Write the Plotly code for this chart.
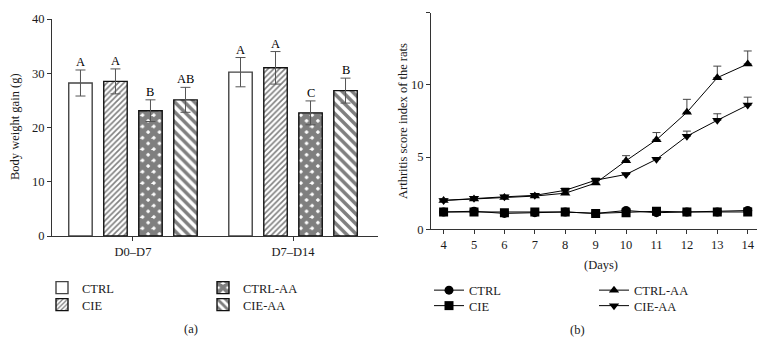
import plotly.graph_objects as go

# ---------------- data: panel (a) ----------------
periods = ["D0–D7", "D7–D14"]
bar_names = ["CTRL", "CIE", "CTRL-AA", "CIE-AA"]
ctrl_gain = [28.2, 30.2]
ctrl_gain_err = [2.4, 2.7]
cie_gain = [28.5, 31.0]
cie_gain_err = [2.3, 3.0]
ctrlaa_gain = [23.1, 22.7]
ctrlaa_gain_err = [2.0, 2.2]
cieaa_gain = [25.1, 26.8]
cieaa_gain_err = [2.3, 2.3]
ctrl_letters = ["A", "A"]
cie_letters = ["A", "A"]
ctrlaa_letters = ["B", "C"]
cieaa_letters = ["AB", "B"]

# ---------------- data: panel (b) ----------------
days = [4, 5, 6, 7, 8, 9, 10, 11, 12, 13, 14]
ctrl_score = [1.2, 1.25, 1.1, 1.15, 1.2, 1.1, 1.3, 1.15, 1.2, 1.2, 1.3]
cie_score = [1.2, 1.2, 1.15, 1.2, 1.2, 1.1, 1.15, 1.25, 1.2, 1.2, 1.2]
ctrlaa_score = [2.0, 2.1, 2.2, 2.3, 2.5, 3.2, 4.75, 6.2, 8.1, 10.5, 11.45]
ctrlaa_score_err = [0.1, 0.1, 0.15, 0.1, 0.1, 0.15, 0.35, 0.5, 0.9, 0.8, 0.9]
cieaa_score = [2.0, 2.15, 2.25, 2.35, 2.7, 3.4, 3.8, 4.85, 6.45, 7.55, 8.6]
cieaa_score_err = [0.1, 0.1, 0.1, 0.1, 0.15, 0.15, 0.1, 0.1, 0.35, 0.45, 0.55]

# page body has an 8px margin: figure drawn at (8, 8)
OFF = 8
W, H = 756, 340
FONT = "Liberation Serif, Times New Roman, serif"
FS = 12.5
TXT = "#1a1a1a"


def px(xp):
    return (xp - OFF) / W


def py(yp):
    return 1 - (yp - OFF) / H


fig = go.Figure()

bar_vals = [ctrl_gain, cie_gain, ctrlaa_gain, cieaa_gain]
bar_errs = [ctrl_gain_err, cie_gain_err, ctrlaa_gain_err, cieaa_gain_err]
bar_letters = [ctrl_letters, cie_letters, ctrlaa_letters, cieaa_letters]
patterns = [
    dict(shape=""),
    dict(shape="/", fgcolor="black", bgcolor="white", size=4, solidity=0.4),
    dict(shape="x", fgcolor="black", bgcolor="white", size=8, solidity=0.85),
    dict(shape="\\", fgcolor="black", bgcolor="white", size=7, solidity=0.5),
]
outline = ["#444", "#111", "#111", "#111"]
legend_ids = ["legend", "legend2", "legend3", "legend4"]

for i, name in enumerate(bar_names):
    fig.add_trace(go.Bar(
        x=periods, y=bar_vals[i], name=name,
        marker=dict(color="white", line=dict(color=outline[i], width=1.4),
                    pattern=patterns[i]),
        error_y=dict(type="data", array=bar_errs[i], color="#555",
                     thickness=1, width=5),
        xaxis="x", yaxis="y", legend=legend_ids[i],
    ))

# letters above the error bars
slot_px = 35
for i in range(4):
    off = (i - 1.5) * slot_px
    for j, g in enumerate(periods):
        fig.add_annotation(
            x=g, y=bar_vals[i][j] + bar_errs[i][j], xref="x", yref="y",
            text=bar_letters[i][j], showarrow=False, xanchor="center", yanchor="bottom",
            xshift=off, yshift=-1, font=dict(family=FONT, size=FS, color="black"))

markers = [
    ("CTRL", ctrl_score, None, "circle", "legend5"),
    ("CIE", cie_score, None, "square", "legend6"),
    ("CTRL-AA", ctrlaa_score, ctrlaa_score_err, "triangle-up", "legend7"),
    ("CIE-AA", cieaa_score, cieaa_score_err, "triangle-down", "legend8"),
]
for name, vals, err, sym, leg in markers:
    kw = {}
    if err is not None:
        kw["error_y"] = dict(type="data", symmetric=False, array=err,
                             arrayminus=[0] * len(err), color="#444",
                             thickness=1, width=4)
    fig.add_trace(go.Scatter(
        x=days, y=vals, name=name, mode="lines+markers",
        line=dict(color="black", width=1),
        marker=dict(symbol=sym, size=9, color="black"),
        xaxis="x2", yaxis="y2", legend=leg, **kw))

axis_common = dict(showline=True, linecolor="#333", linewidth=1, ticks="outside",
                   ticklen=4, tickcolor="#333", showgrid=False, zeroline=False,
                   automargin=False,
                   tickfont=dict(family=FONT, size=FS, color=TXT))

fig.update_layout(
    width=W, height=H, margin=dict(l=0, r=0, t=0, b=0, pad=0, autoexpand=False),
    paper_bgcolor="white", plot_bgcolor="white",
    barmode="group", bargap=0.125, bargroupgap=0.33,
    font=dict(family=FONT, size=FS, color=TXT),
    xaxis=dict(domain=[px(52), px(378)], range=[-0.506, 1.531], anchor="y",
               **axis_common),
    yaxis=dict(domain=[py(236), py(19)], range=[0, 40], tickvals=[0, 10, 20, 30, 40],
               anchor="x", **axis_common),
    xaxis2=dict(domain=[px(431), px(757)], range=[3.586, 14.305], dtick=1,
                anchor="y2", **axis_common),
    yaxis2=dict(domain=[py(229.3), py(12.7)], range=[0, 15], tickvals=[0, 5, 10, 15],
                anchor="x2", **axis_common),
    showlegend=True,
)

leg_common = dict(bgcolor="rgba(0,0,0,0)", font=dict(family=FONT, size=FS, color=TXT),
                  orientation="v", xanchor="left", yanchor="middle",
                  itemwidth=30, tracegroupgap=0)
fig.update_layout(
    legend=dict(x=px(42), y=py(288), **leg_common),
    legend2=dict(x=px(42), y=py(305), **leg_common),
    legend3=dict(x=px(203), y=py(288), **leg_common),
    legend4=dict(x=px(203), y=py(305), **leg_common),
    legend5=dict(x=px(429), y=py(290.5), **leg_common),
    legend6=dict(x=px(429), y=py(306), **leg_common),
    legend7=dict(x=px(594), y=py(290.5), **leg_common),
    legend8=dict(x=px(594), y=py(306), **leg_common),
)

# axis titles and panel labels
lab = dict(xref="paper", yref="paper", showarrow=False, xanchor="center", yanchor="middle",
           font=dict(family=FONT, size=FS, color=TXT))
fig.add_annotation(x=px(15), y=py(127), text="Body weight gain (g)", textangle=-90, **lab)
fig.add_annotation(x=px(403), y=py(121), text="Arthritis score index of the rats",
                   textangle=-90, **lab)
fig.add_annotation(x=px(601), y=py(265), text="(Days)", **lab)
fig.add_annotation(x=px(191), y=py(329), text="(a)", **lab)
fig.add_annotation(x=px(577), y=py(330), text="(b)", **lab)

fig.write_html("out.html")
